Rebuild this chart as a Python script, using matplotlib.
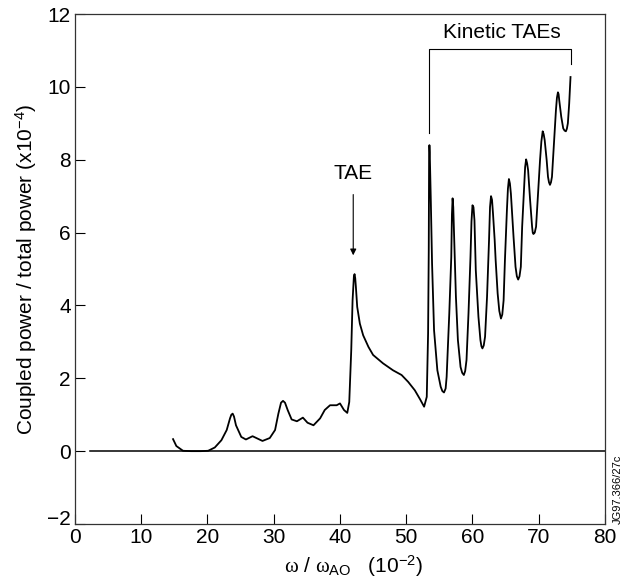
import numpy as np
import matplotlib.pyplot as plt
import matplotlib.transforms as mtransforms

plt.rcParams['font.family'] = ['Liberation Sans', 'DejaVu Sans']
plt.rcParams['mathtext.fontset'] = 'custom'
plt.rcParams['mathtext.it'] = 'Liberation Serif'
plt.rcParams['mathtext.rm'] = 'Liberation Sans'
plt.rcParams['mathtext.sf'] = 'Liberation Sans'

# frequency (x10^-2) and coupled power fraction (x10^-4)
freq = [14.8, 15.3, 16.3, 17.5, 19.0, 20.1, 21.1, 22.1, 22.9, 23.4, 23.6, 23.8,
        24.0, 24.3, 25.1, 25.8, 26.8, 27.5, 28.3, 29.4, 30.2, 30.7, 31.1, 31.4,
        31.7, 32.1, 32.7, 33.5, 34.4, 35.1, 36.0, 37.0, 37.7, 38.5, 39.5, 40.0,
        40.6, 41.1, 41.4, 41.7, 41.9, 42.1, 42.2, 42.3, 42.4, 42.6, 43.0, 43.5,
        44.3, 45.0, 46.5, 48.0, 49.3, 50.3, 51.3, 52.1, 52.7, 53.1, 53.3, 53.4,
        53.45, 53.5, 53.55, 53.7, 53.9, 54.2, 54.7, 55.2, 55.45, 55.7, 55.95, 56.1,
        56.5, 56.8, 56.9, 57.0, 57.1, 57.2, 57.5, 57.8, 58.2, 58.45, 58.7, 58.9,
        59.1, 59.4, 59.7, 59.85, 60.0, 60.15, 60.3, 60.5, 60.9, 61.2, 61.35, 61.5,
        61.7, 61.9, 62.2, 62.5, 62.65, 62.8, 62.95, 63.1, 63.35, 63.5, 63.8, 64.05,
        64.3, 64.5, 64.7, 64.9, 65.2, 65.35, 65.5, 65.65, 65.8, 66.2, 66.5, 66.7,
        66.9, 67.1, 67.3, 67.5, 67.8, 67.95, 68.1, 68.25, 68.4, 68.7, 69.0, 69.1,
        69.2, 69.4, 69.6, 69.9, 70.2, 70.4, 70.6, 70.75, 70.9, 71.2, 71.4, 71.55,
        71.7, 71.85, 72.0, 72.3, 72.6, 72.75, 72.9, 73.0, 73.1, 73.4, 73.7, 73.9,
        74.1, 74.25, 74.4, 74.6, 74.8]
power = [0.33, 0.14, 0.01, 0.0, 0.0, 0.01, 0.10, 0.30, 0.58, 0.90, 1.00, 1.03,
         0.95, 0.71, 0.39, 0.32, 0.41, 0.35, 0.28, 0.36, 0.58, 1.03, 1.33, 1.38,
         1.33, 1.13, 0.87, 0.82, 0.92, 0.78, 0.71, 0.90, 1.13, 1.26, 1.26, 1.31,
         1.13, 1.05, 1.35, 2.77, 4.14, 4.80, 4.86, 4.75, 4.51, 3.96, 3.50, 3.18,
         2.86, 2.64, 2.41, 2.22, 2.09, 1.90, 1.67, 1.42, 1.22, 1.49, 3.23, 5.50,
         8.00, 8.40, 8.20, 6.98, 5.15, 3.32, 2.22, 1.77, 1.65, 1.61, 1.72, 2.04,
         3.78, 5.33, 6.50, 6.94, 6.70, 6.07, 4.24, 3.05, 2.31, 2.15, 2.09, 2.20,
         2.50, 3.78, 5.33, 6.30, 6.75, 6.70, 6.34, 4.97, 3.69, 3.05, 2.88, 2.82,
         2.90, 3.14, 4.24, 5.79, 6.70, 7.00, 6.90, 6.52, 5.80, 5.24, 4.33, 3.85,
         3.64, 3.75, 4.14, 5.24, 6.62, 7.20, 7.47, 7.35, 7.07, 5.88, 5.06, 4.80,
         4.71, 4.80, 5.06, 6.16, 7.25, 7.80, 8.01, 7.90, 7.71, 6.89, 6.16, 6.00,
         5.96, 6.00, 6.16, 7.07, 7.99, 8.50, 8.78, 8.70, 8.54, 7.99, 7.53, 7.38,
         7.31, 7.38, 7.53, 8.45, 9.36, 9.70, 9.85, 9.80, 9.63, 9.18, 8.86, 8.80,
         8.78, 8.85, 9.00, 9.54, 10.27]

xticks = [0, 10, 20, 30, 40, 50, 60, 70, 80]
yticks = [-2, 0, 2, 4, 6, 8, 10, 12]

fig = plt.figure(figsize=(6.33, 5.86), dpi=100)
ax = fig.add_axes([0.1185, 0.1058, 0.8372, 0.8703])

ax.plot(freq, power, color='black', lw=1.3)
ax.plot([2.3, 80], [0, 0], color='black', lw=1.1)

# TAE label and arrow
ax.text(42.0, 7.62, 'TAE', ha='center', va='center', fontsize=15)
ax.annotate('', xy=(42.0, 5.3), xytext=(42.0, 7.12),
            arrowprops=dict(arrowstyle='-|>', color='black', lw=0.8,
                            mutation_scale=9))

# Kinetic TAEs bracket
ax.plot([53.5, 53.5, 74.8, 74.8], [8.72, 11.05, 11.05, 10.62], color='black', lw=0.8)
ax.text(64.5, 11.5, 'Kinetic TAEs', ha='center', va='center', fontsize=15)

ax.set_xlim(0, 80)
ax.set_ylim(-2, 12)
ax.set_xticks(xticks)
ax.set_yticks(yticks)
ax.tick_params(direction='in', length=7, width=0.8, labelsize=15, pad=3,
               top=False, right=False)
for s in ax.spines.values():
    s.set_color('#333333')
    s.set_linewidth(0.9)

# lift the -2 label a little, as in the original
lab = ax.get_yticklabels()[0]
lab.set_transform(lab.get_transform() + mtransforms.ScaledTranslation(0, 5 / 72, fig.dpi_scale_trans))

ax.set_xlabel(r'$\omega$ / $\omega_{\mathsf{AO}}$   (10$^{\mathsf{-2}}$)', fontsize=15)
ax.xaxis.set_label_coords(0.526, -0.058)
ax.set_ylabel(r'Coupled power / total power (x10$^{\mathsf{-4}}$)', fontsize=15, labelpad=6)

fig.text(0.968, 0.106, 'JG97.366/27c', rotation=90, fontsize=8, ha='left', va='bottom')

fig.savefig('out.png', dpi=100)
